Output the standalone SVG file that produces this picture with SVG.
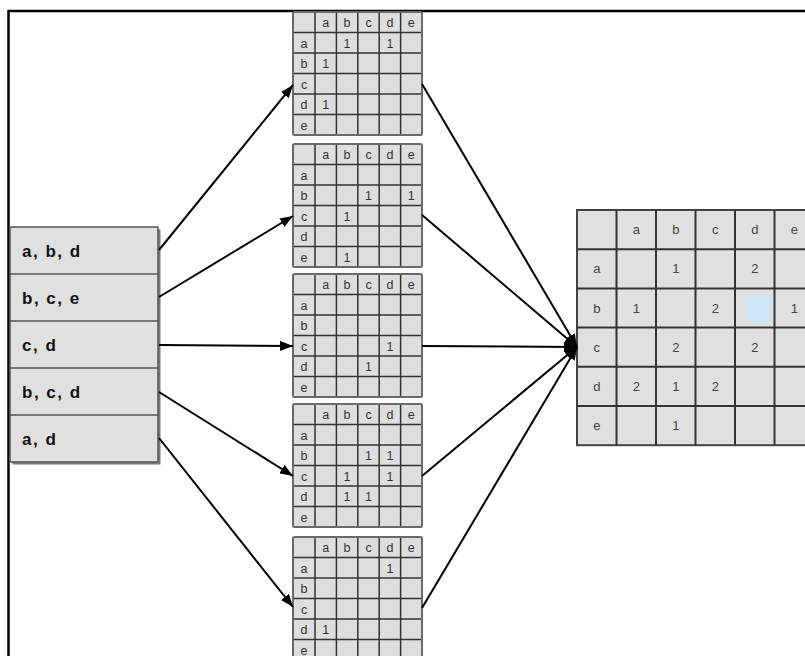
<svg xmlns="http://www.w3.org/2000/svg" xmlns:xlink="http://www.w3.org/1999/xlink" width="805" height="656" viewBox="0 0 805 656">
<style>
  .frame { stroke: #000; stroke-width: 2.5; fill: none; }
  .cell { fill: #dedede; }
  .outer { fill: none; stroke: #6a6a6a; stroke-width: 2; }
  .grid { stroke: #333; stroke-width: 1.5; }
  .st { font-family: "Liberation Sans", Arial, sans-serif; font-size: 12.5px; fill: #333; text-anchor: middle; }
  .bt { font-family: "Liberation Sans", Arial, sans-serif; font-size: 13px; fill: #444; text-anchor: middle; }
  .lt { font-family: "Liberation Sans", Arial, sans-serif; font-size: 17px; font-weight: bold; fill: #111; letter-spacing: 1.5px; }
  .bgrid { stroke: #333; stroke-width: 2; }
  .conn { stroke: #000; stroke-width: 2; fill: none; marker-end: url(#arrow); }
</style>
<defs>
  <marker id="arrow" markerUnits="userSpaceOnUse" markerWidth="14" markerHeight="10" refX="13" refY="5" orient="auto">
    <path d="M0,0 L13,5 L0,10 z" fill="#000"/>
  </marker>
  <g id="small">
    <rect class="cell" x="0" y="0" width="129" height="123"/>
    <g class="grid">
      <line x1="22" y1="0" x2="22" y2="123"/>
      <line x1="43.4" y1="0" x2="43.4" y2="123"/>
      <line x1="64.8" y1="0" x2="64.8" y2="123"/>
      <line x1="86.2" y1="0" x2="86.2" y2="123"/>
      <line x1="107.6" y1="0" x2="107.6" y2="123"/>
      <line x1="0" y1="20.5" x2="129" y2="20.5"/>
      <line x1="0" y1="41" x2="129" y2="41"/>
      <line x1="0" y1="61.5" x2="129" y2="61.5"/>
      <line x1="0" y1="82" x2="129" y2="82"/>
      <line x1="0" y1="102.5" x2="129" y2="102.5"/>
    </g>
    <rect class="outer" x="0" y="0" width="129" height="123" rx="1.5"/>
    <text class="st" x="32.7" y="15">a</text>
    <text class="st" x="54.1" y="15">b</text>
    <text class="st" x="75.5" y="15">c</text>
    <text class="st" x="96.9" y="15">d</text>
    <text class="st" x="118.3" y="15">e</text>
    <text class="st" x="11" y="35.5">a</text>
    <text class="st" x="11" y="56">b</text>
    <text class="st" x="11" y="76.5">c</text>
    <text class="st" x="11" y="97">d</text>
    <text class="st" x="11" y="117.5">e</text>
  </g>
</defs>
<rect x="0" y="0" width="805" height="656" fill="#fff"/>
<line class="frame" x1="8.5" y1="11" x2="805" y2="11"/>
<line class="frame" x1="8.5" y1="10" x2="8.5" y2="656"/>

<g id="list">
  <rect x="12.5" y="229.5" width="148" height="235" fill="#7a7a7a"/>
  <rect x="10" y="227" width="148" height="235" fill="#e0e0e0" stroke="#555" stroke-width="1.5"/>
  <g stroke="#555" stroke-width="1.5">
    <line x1="10" y1="274" x2="158" y2="274"/>
    <line x1="10" y1="321" x2="158" y2="321"/>
    <line x1="10" y1="368" x2="158" y2="368"/>
    <line x1="10" y1="415" x2="158" y2="415"/>
  </g>
  <text class="lt" x="22" y="257">a, b, d</text>
  <text class="lt" x="22" y="304">b, c, e</text>
  <text class="lt" x="22" y="351">c, d</text>
  <text class="lt" x="22" y="398">b, c, d</text>
  <text class="lt" x="22" y="445">a, d</text>
</g>

<g id="m1" transform="translate(293,12)">
  <use xlink:href="#small" href="#small"/>
  <text class="st" x="54.1" y="35.5">1</text>
  <text class="st" x="96.9" y="35.5">1</text>
  <text class="st" x="32.7" y="56">1</text>
  <text class="st" x="32.7" y="97">1</text>
</g>
<g id="m2" transform="translate(293,144)">
  <use xlink:href="#small" href="#small"/>
  <text class="st" x="75.5" y="56">1</text>
  <text class="st" x="118.3" y="56">1</text>
  <text class="st" x="54.1" y="76.5">1</text>
  <text class="st" x="54.1" y="117.5">1</text>
</g>
<g id="m3" transform="translate(293,274)">
  <use xlink:href="#small" href="#small"/>
  <text class="st" x="96.9" y="76.5">1</text>
  <text class="st" x="75.5" y="97">1</text>
</g>
<g id="m4" transform="translate(293,404)">
  <use xlink:href="#small" href="#small"/>
  <text class="st" x="75.5" y="56">1</text>
  <text class="st" x="96.9" y="56">1</text>
  <text class="st" x="54.1" y="76.5">1</text>
  <text class="st" x="96.9" y="76.5">1</text>
  <text class="st" x="54.1" y="97">1</text>
  <text class="st" x="75.5" y="97">1</text>
</g>
<g id="m5" transform="translate(293,537)">
  <use xlink:href="#small" href="#small"/>
  <text class="st" x="96.9" y="35.5">1</text>
  <text class="st" x="32.7" y="97">1</text>
</g>

<g id="result">
  <rect x="577" y="210" width="237" height="235.2" fill="#e0e0e0" stroke="#444" stroke-width="2"/>
  <rect x="746" y="295" width="25" height="28" fill="#cce6f7"/>
  <g class="bgrid">
    <line x1="616.5" y1="210" x2="616.5" y2="445.2"/>
    <line x1="656" y1="210" x2="656" y2="445.2"/>
    <line x1="695.5" y1="210" x2="695.5" y2="445.2"/>
    <line x1="735" y1="210" x2="735" y2="445.2"/>
    <line x1="774.5" y1="210" x2="774.5" y2="445.2"/>
    <line x1="577" y1="249.2" x2="814" y2="249.2"/>
    <line x1="577" y1="288.4" x2="814" y2="288.4"/>
    <line x1="577" y1="327.6" x2="814" y2="327.6"/>
    <line x1="577" y1="366.8" x2="814" y2="366.8"/>
    <line x1="577" y1="406" x2="814" y2="406"/>
  </g>
  <text class="bt" x="636.25" y="234">a</text>
  <text class="bt" x="675.75" y="234">b</text>
  <text class="bt" x="715.25" y="234">c</text>
  <text class="bt" x="754.75" y="234">d</text>
  <text class="bt" x="794.25" y="234">e</text>
  <text class="bt" x="596.75" y="273.3">a</text>
  <text class="bt" x="596.75" y="312.5">b</text>
  <text class="bt" x="596.75" y="351.7">c</text>
  <text class="bt" x="596.75" y="390.9">d</text>
  <text class="bt" x="596.75" y="430.1">e</text>
  <text class="bt" x="675.75" y="273.3">1</text>
  <text class="bt" x="754.75" y="273.3">2</text>
  <text class="bt" x="636.25" y="312.5">1</text>
  <text class="bt" x="715.25" y="312.5">2</text>
  <text class="bt" x="794.25" y="312.5">1</text>
  <text class="bt" x="675.75" y="351.7">2</text>
  <text class="bt" x="754.75" y="351.7">2</text>
  <text class="bt" x="636.25" y="390.9">2</text>
  <text class="bt" x="675.75" y="390.9">1</text>
  <text class="bt" x="715.25" y="390.9">2</text>
  <text class="bt" x="675.75" y="430.1">1</text>
</g>

<g id="connectors">
  <line class="conn" x1="159" y1="250" x2="293" y2="85"/>
  <line class="conn" x1="159" y1="297" x2="293" y2="216"/>
  <line class="conn" x1="159" y1="345" x2="293" y2="346"/>
  <line class="conn" x1="159" y1="392" x2="293" y2="476"/>
  <line class="conn" x1="159" y1="438" x2="293" y2="607"/>
  <line class="conn" x1="422" y1="84" x2="577" y2="347"/>
  <line class="conn" x1="422" y1="215" x2="577" y2="347"/>
  <line class="conn" x1="422" y1="346" x2="577" y2="347"/>
  <line class="conn" x1="422" y1="476" x2="577" y2="347"/>
  <line class="conn" x1="422" y1="608" x2="577" y2="347"/>
</g>
</svg>
